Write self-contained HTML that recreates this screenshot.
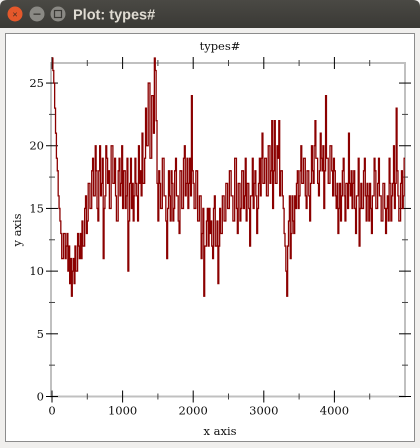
<!DOCTYPE html>
<html><head><meta charset="utf-8"><style>
html,body{margin:0;padding:0;width:420px;height:448px;overflow:hidden;background:#f0efed}
svg{display:block}
</style></head><body>
<svg id="s" width="420" height="448" xmlns="http://www.w3.org/2000/svg">
<defs><linearGradient id="tb" x1="0" y1="0" x2="0" y2="1"><stop offset="0" stop-color="#4a4944"/><stop offset="1" stop-color="#3a3935"/></linearGradient></defs>
<path d="M0,28 L0,7 Q0,0 7,0 L413,0 Q420,0 420,7 L420,28 Z" fill="url(#tb)"/>
<circle cx="15" cy="14" r="7.5" fill="#e5582b"/>
<text x="15" y="17.5" font-size="9" text-anchor="middle" fill="#3a2a20" font-family="Liberation Sans, sans-serif">×</text>
<circle cx="37" cy="14" r="7.5" fill="#8a8984"/>
<rect x="33.5" y="13.5" width="7" height="1.3" fill="#3a3935"/>
<circle cx="58" cy="14" r="7.5" fill="#8a8984"/>
<rect x="54.5" y="10.5" width="7" height="7" fill="none" stroke="#3a3935" stroke-width="1.2"/>
<text x="73" y="19.5" font-size="14.5" font-weight="bold" fill="#dfdbd2" font-family="Liberation Sans, sans-serif">Plot: types#</text>
<rect x="5.5" y="33.5" width="409" height="408" fill="#fff" stroke="#8c8c8c"/>
<text x="220" y="50" font-size="11.5" text-anchor="middle" font-family="DejaVu Serif, Liberation Serif, serif" fill="#111">types#</text>
<text x="220" y="435" font-size="11.5" text-anchor="middle" font-family="DejaVu Serif, Liberation Serif, serif" fill="#111">x axis</text>
<text transform="translate(21,230) rotate(-90)" font-size="11.5" text-anchor="middle" font-family="DejaVu Serif, Liberation Serif, serif" fill="#111">y axis</text>
<g id="ax"></g>
<path id="ln" fill="none" stroke="#8b0000" stroke-width="1.3"/>
</svg>
<script>
const xStep = 12.5;
const yValues = [
27,26,25,23,21,19,18,16,15,14,13,11,11,13,13,11,12,13,10,12,
9,11,8,10,11,9,12,10,10,13,12,11,13,11,14,12,12,15,16,13,
14,17,17,15,15,18,19,16,16,20,18,15,14,18,20,16,17,19,11,15,
16,20,19,17,18,15,15,20,20,17,17,19,16,14,14,18,19,16,17,20,
15,18,18,15,16,19,10,14,17,19,15,17,14,16,19,17,16,14,20,17,
18,16,21,17,17,19,23,20,20,25,25,19,19,24,24,21,27,26,22,17,
14,18,17,15,15,19,19,16,16,14,11,15,18,16,14,18,17,14,15,18,
19,16,16,14,13,18,18,15,15,19,20,16,17,19,15,17,19,16,24,18,
17,15,15,18,18,14,14,16,16,11,13,15,8,12,12,14,15,12,15,13,
14,12,11,15,16,12,12,14,9,12,15,13,13,16,16,14,14,17,17,15,
15,18,18,16,16,14,14,19,19,15,13,17,17,14,15,18,18,15,16,19,
14,17,17,15,12,16,16,19,15,17,18,16,13,15,17,19,16,19,21,17,
17,19,19,16,16,20,20,17,18,22,15,18,22,17,17,20,19,22,16,18,
18,16,15,13,12,10,8,12,14,16,11,13,16,14,13,16,15,17,18,15,
16,18,20,17,17,19,19,16,15,18,18,16,14,17,20,18,17,20,22,19,
19,17,16,18,21,19,18,20,15,18,24,19,19,17,17,20,20,18,16,19,
18,16,15,17,13,15,17,14,16,18,19,16,14,17,17,15,21,17,16,18,
15,17,18,15,13,16,16,19,12,15,17,15,15,18,19,16,14,17,16,14,
17,15,13,16,16,19,18,15,15,17,19,16,16,14,14,17,17,15,13,15,
16,14,19,17,14,16,17,20,15,17,23,18,16,14,14,17,18,15,16,19];
const xTicks = [0,1000,2000,3000,4000];
const yTicks = [0,5,10,15,20,25];
const X0=52,X1=405,Y0=396.5,Y1=63,XMAX=5000,YMAX=26.6;
function sx(v){return X0+(X1-X0)*v/XMAX;}
function sy(v){return Y0-(Y0-Y1)*v/YMAX;}
const NS="http://www.w3.org/2000/svg";
const ax=document.getElementById('ax');
function el(t,a){const e=document.createElementNS(NS,t);for(const k in a)e.setAttribute(k,a[k]);ax.appendChild(e);return e;}
const box=el('rect',{x:X0-1,y:Y1,width:X1-X0+1,height:Y0-Y1,fill:'none',stroke:'#c0c0c0','stroke-width':2});


const F="DejaVu Serif, Liberation Serif, serif";
xTicks.forEach(v=>{const x=sx(v);
 el('line',{x1:x,x2:x,y1:Y0-6,y2:Y0+6,stroke:'#000'});
 el('line',{x1:x,x2:x,y1:Y1-6,y2:Y1+6,stroke:'#000'});
 const t=el('text',{x:x,y:Y0+18,'font-size':11.5,'text-anchor':'middle','font-family':F,fill:'#111'});t.textContent=v;
 
 
 const m=sx(v+500);
 el('line',{x1:m,x2:m,y1:Y0-3,y2:Y0+3,stroke:'#444'});
 el('line',{x1:m,x2:m,y1:Y1-3,y2:Y1+3,stroke:'#444'});
});
yTicks.forEach(v=>{const y=sy(v);
 el('line',{x1:X0-6,x2:X0+6,y1:y,y2:y,stroke:'#000'});
 el('line',{x1:X1-6,x2:X1+6,y1:y,y2:y,stroke:'#000'});
 const t=el('text',{x:X0-8,y:y+4,'font-size':11.5,'text-anchor':'end','font-family':F,fill:'#111'});t.textContent=v;
 
 
 const m=sy(v+2.5);
 if(v+2.5<YMAX){el('line',{x1:X0-3,x2:X0+3,y1:m,y2:m,stroke:'#444'});
 el('line',{x1:X1-3,x2:X1+3,y1:m,y2:m,stroke:'#444'});}
});
let d='';
yValues.forEach((v,i)=>{const x=sx(i*xStep),y=sy(v);
 if(i===0)d+='M'+x+','+y;else d+='L'+x+','+sy(yValues[i-1])+'L'+x+','+y;});
d+='L'+sx(yValues.length*xStep)+','+sy(yValues[yValues.length-1]);
document.getElementById('ln').setAttribute('d',d);
</script>
</body></html>
